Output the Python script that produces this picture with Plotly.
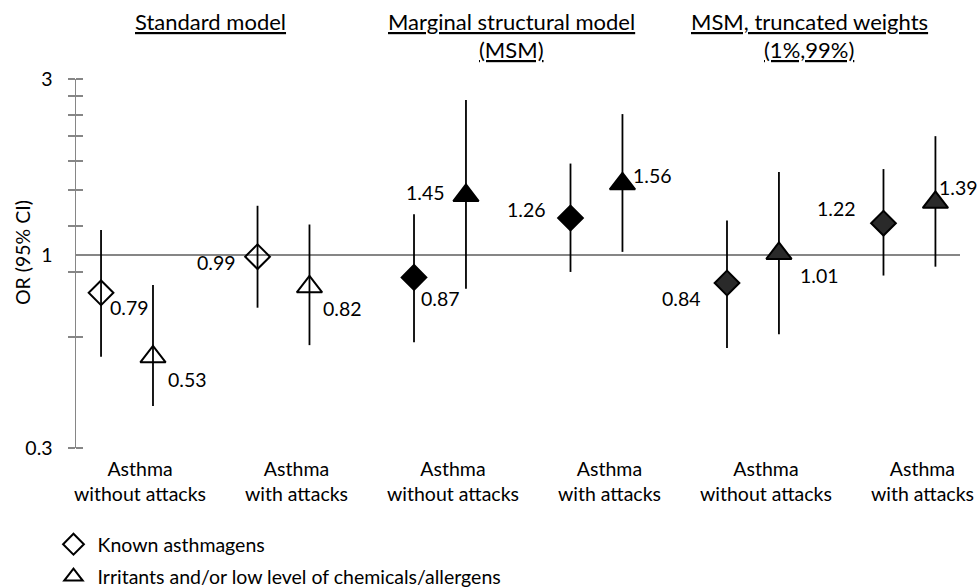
import math
import plotly.graph_objects as go

# ---------------- data ----------------
categories = ["Asthma<br>without attacks", "Asthma<br>with attacks",
              "Asthma<br>without attacks", "Asthma<br>with attacks",
              "Asthma<br>without attacks", "Asthma<br>with attacks"]
models = ["Standard model", "Marginal structural model", "(MSM)",
          "MSM, truncated weights", "(1%,99%)"]

known_or = [0.79, 0.99, 0.87, 1.26, 0.84, 1.22]
known_lo = [0.53, 0.72, 0.58, 0.90, 0.56, 0.88]
known_hi = [1.17, 1.36, 1.29, 1.77, 1.24, 1.71]

irr_or = [0.53, 0.82, 1.45, 1.56, 1.01, 1.39]
irr_lo = [0.39, 0.57, 0.81, 1.02, 0.61, 0.93]
irr_hi = [0.83, 1.21, 2.63, 2.41, 1.68, 2.10]

y_tick_vals = [0.3, 1, 3]
y_tick_text = ["0.3", "1", "3"]
y_minor_vals = [0.3, 0.6, 0.9, 1.2, 1.5, 1.8, 2.1, 2.4, 2.7, 3.0]

legend_names = ["Known asthmagens", "Irritants and/or low level of chemicals/allergens"]

# ---------------- style ----------------
FONT = "Lato"
FS = 19.5
HFS = 22
GREY = "#868686"
known_symbols = ["diamond-open", "diamond-open", "diamond", "diamond", "diamond", "diamond"]
irr_symbols = ["triangle-up-open", "triangle-up-open", "triangle-up", "triangle-up", "triangle-up", "triangle-up"]
marker_colors = ["black", "black", "black", "black", "#2a2a2a", "#2a2a2a"]
K_OFF, I_OFF = -0.249, 0.083
xk = [i + K_OFF for i in range(len(categories))]
xi = [i + I_OFF for i in range(len(categories))]

# label placement (xanchor, xshift, yshift)
known_lab = [("left", 8, -15), ("right", -21, -6), ("left", 6, -21),
             ("right", -24, 9), ("right", -25, -15), ("right", -26, 15)]
irr_lab = [("left", 14, -23), ("left", 13, -22), ("right", -20, 3),
           ("left", 10, 8), ("left", 20, -22), ("left", 3, 15)]

fig = go.Figure()

fig.add_trace(go.Scatter(
    x=xk, y=known_or, mode="markers", showlegend=False, hoverinfo="skip",
    marker=dict(symbol=known_symbols, size=19, color=marker_colors,
                line=dict(color="black", width=2)),
    error_y=dict(type="data", symmetric=False,
                 array=[h - v for h, v in zip(known_hi, known_or)],
                 arrayminus=[v - l for v, l in zip(known_or, known_lo)],
                 color="black", thickness=1.8, width=0),
))
fig.add_trace(go.Scatter(
    x=xi, y=irr_or, mode="markers", showlegend=False, hoverinfo="skip",
    marker=dict(symbol=irr_symbols, size=22, color=marker_colors,
                line=dict(color="black", width=2)),
    error_y=dict(type="data", symmetric=False,
                 array=[h - v for h, v in zip(irr_hi, irr_or)],
                 arrayminus=[v - l for v, l in zip(irr_or, irr_lo)],
                 color="black", thickness=1.8, width=0),
))

# legend-only traces
fig.add_trace(go.Scatter(x=[None], y=[None], mode="markers", name=legend_names[0],
                         legendgroup="a",
                         marker=dict(symbol="diamond-open", size=16, color="black",
                                     line=dict(width=2, color="black"))))
fig.add_trace(go.Scatter(x=[None], y=[None], mode="markers", name=legend_names[1],
                         legendgroup="b",
                         marker=dict(symbol="triangle-up-open", size=16, color="black",
                                     line=dict(width=2, color="black"))))
# invisible trace on overlay axis
fig.add_trace(go.Scatter(x=[None], y=[None], yaxis="y2", showlegend=False,
                         mode="markers", hoverinfo="skip"))

annotations = []
for xs, vals, labs in ((xk, known_or, known_lab), (xi, irr_or, irr_lab)):
    for x, v, (anc, dx, dy) in zip(xs, vals, labs):
        annotations.append(dict(x=x, y=math.log10(v), xref="x", yref="y",
                                text=f"{v:.2f}", showarrow=False,
                                xanchor=anc, yanchor="middle",
                                xshift=dx, yshift=dy, borderpad=0,
                                font=dict(family=FONT, size=FS, color="black")))

# model headers
header_pos = [(0.1527, 1.1545), (0.4932, 1.1545), (0.4932, 1.0786),
              (0.8292, 1.1545), (0.8292, 1.0786)]
for txt, (hx, hy) in zip(models, header_pos):
    annotations.append(dict(x=hx, y=hy, xref="paper", yref="paper",
                            text=f"<u>{txt}</u>", showarrow=False,
                            xanchor="center", yanchor="middle",
                            font=dict(family=FONT, size=HFS, color="black")))

annotations.append(dict(x=-0.0611, y=0.531, xref="paper", yref="paper",
                        text="OR (95% CI)", textangle=-90, showarrow=False,
                        xanchor="center", yanchor="middle",
                        font=dict(family=FONT, size=FS, color="black")))

lo, hi = math.log10(0.3), math.log10(3)

fig.update_layout(
    width=979, height=587,
    margin=dict(l=76, r=19, t=79, b=139, autoexpand=False),
    paper_bgcolor="white", plot_bgcolor="white",
    font=dict(family=FONT, size=FS, color="black"),
    hovermode=False,
    xaxis=dict(range=[-0.409, 5.240], tickmode="array",
               tickvals=list(range(len(categories))), ticktext=categories,
               showgrid=False, zeroline=False, showline=False, ticks="",
               ticklabelstandoff=7, fixedrange=True),
    yaxis=dict(type="log", range=[lo, hi], tickmode="array",
               tickvals=y_tick_vals, ticktext=y_tick_text,
               showgrid=False, zeroline=False, showline=True,
               linecolor=GREY, linewidth=1.5, ticks="",
               ticklabelstandoff=18, fixedrange=True,
               minor=dict(tickmode="array", tickvals=y_minor_vals,
                          ticks="outside", ticklen=7, tickcolor=GREY,
                          tickwidth=1.5, showgrid=False)),
    yaxis2=dict(type="log", range=[lo, hi], overlaying="y", side="left",
                tickmode="array", tickvals=[1], showticklabels=False,
                showgrid=True, gridcolor=GREY, gridwidth=1.5,
                zeroline=False, showline=False, ticks="", fixedrange=True,
                minor=dict(tickmode="array", tickvals=y_minor_vals,
                           ticks="inside", ticklen=7, tickcolor=GREY,
                           tickwidth=1.5, showgrid=False)),
    legend=dict(x=-0.030, y=-0.2087, xanchor="left", yanchor="top",
                font=dict(family=FONT, size=FS, color="black"),
                tracegroupgap=4, traceorder="grouped", itemwidth=38,
                bgcolor="rgba(0,0,0,0)"),
    annotations=annotations,
    showlegend=True,
)

fig.write_html(
    "out.html",
    config={"displayModeBar": False, "staticPlot": True},
    post_script="document.body.style.margin='0';document.body.style.padding='0';"
                "document.body.style.overflow='hidden';",
)
